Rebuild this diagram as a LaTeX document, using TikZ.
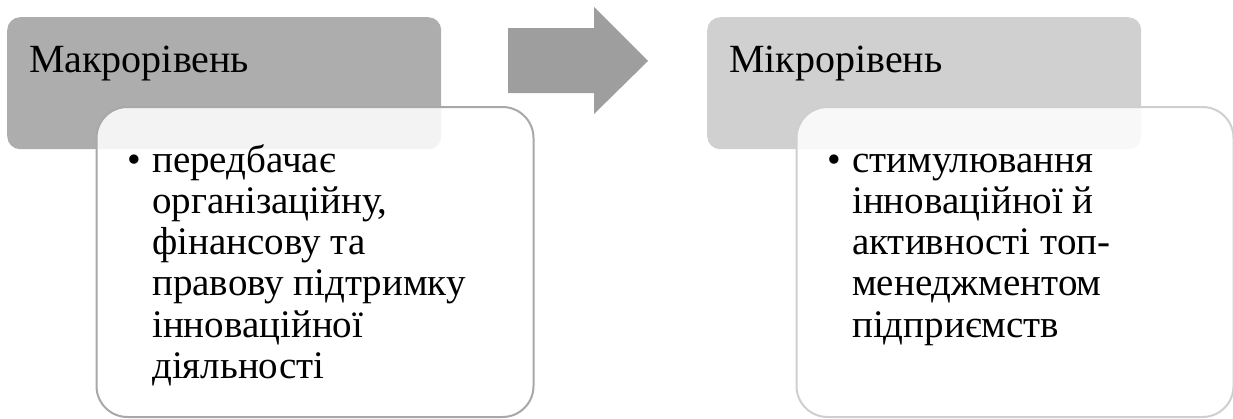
\documentclass[tikz,border=0pt]{standalone}
\usepackage{fontspec}
\setmainfont{Liberation Serif}
\definecolor{hdrA}{HTML}{ADADAD}
\definecolor{hdrB}{HTML}{D0D0D0}
\definecolor{arrowgray}{HTML}{9E9E9E}
\definecolor{bordA}{HTML}{A8A8A8}
\definecolor{bordB}{HTML}{CFCFCF}
\newcommand{\hdrfont}{\fontsize{40}{44}\selectfont}
\newcommand{\bodyfont}{\fontsize{39}{41.3}\selectfont}
\tikzset{
  hdrbox/.style={rectangle, rounded corners=13pt, draw=none, inner sep=0pt, anchor=north west,
    minimum width=434pt, minimum height=132pt},
  detbox/.style={rectangle, rounded corners=31pt, line width=2pt, fill=white, fill opacity=0.86,
    draw opacity=1, inner sep=0pt, anchor=north west, minimum width=437pt, minimum height=310pt},
  hdrtext/.style={anchor=base west, inner sep=0pt, font=\hdrfont, text=black},
  bodytext/.style={anchor=base west, inner sep=0pt, font=\bodyfont, text=black},
}
\begin{document}
\begin{tikzpicture}[x=1pt,y=-1pt]
\useasboundingbox (0,0) rectangle (1233,418);
% left column
\node[hdrbox, fill=hdrA] (h1) at (7,17) {};
\node[hdrtext] (h1t) at (29,72) {Макрорівень};
\node[detbox, draw=bordA] (d1) at (95.5,106) {};
\node[bodytext] (b1) at (127,172) {•};
\node[bodytext] (d1t) at (152,172) {\parbox[t]{370pt}{\bodyfont передбачає\\організаційну,\\фінансову та\\правову підтримку\\інноваційної\\діяльності}};
% arrow
\path[fill=arrowgray] (508,28) -- (594,28) -- (594,7) -- (648,61) -- (594,114) -- (594,93) -- (508,93) -- cycle;
% right column
\node[hdrbox, fill=hdrB] (h2) at (707,17) {};
\node[hdrtext] (h2t) at (729,72) {Мікрорівень};
\node[detbox, draw=bordB] (d2) at (795.5,106) {};
\node[bodytext] (b2) at (827,172) {•};
\node[bodytext] (d2t) at (852,172) {\parbox[t]{370pt}{\bodyfont стимулювання\\інноваційної й\\активності топ-\\менеджментом\\підприємств}};
\end{tikzpicture}
\end{document}
